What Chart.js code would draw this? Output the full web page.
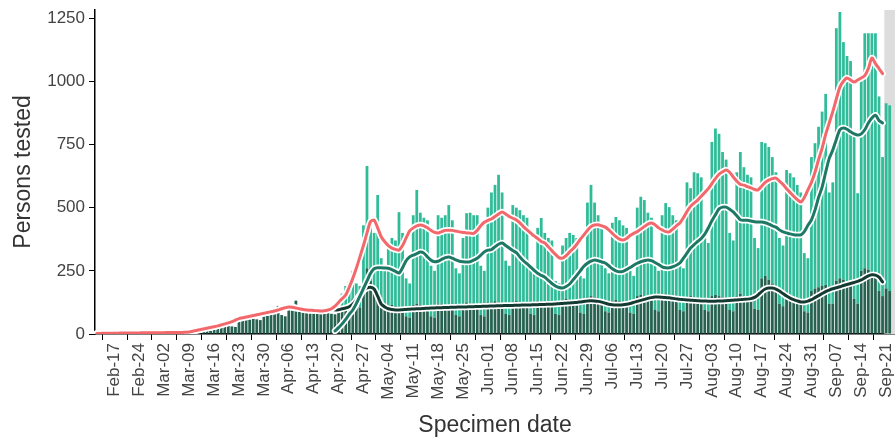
<!DOCTYPE html>
<html>
<head>
<meta charset="utf-8">
<script src="https://cdn.jsdelivr.net/npm/chart.js@4.4.0/dist/chart.umd.min.js"></script>
<style>
html,body{margin:0;padding:0;background:#ffffff;}
#wrap{width:895px;height:440px;}
</style>
</head>
<body>
<div id="wrap"><canvas id="c" width="895" height="440"></canvas></div>
<script>
// ---- categories: one per specimen day, 12 Feb 2020 .. 23 Sep 2020 ----
const firstDay = [2020, 1, 12];
const nDays = 225;
const monthNames = ['Jan','Feb','Mar','Apr','May','Jun','Jul','Aug','Sep','Oct','Nov','Dec'];
const days = [];
for (let i = 0; i < nDays; i++) {
  const dt = new Date(Date.UTC(firstDay[0], firstDay[1], firstDay[2] + i));
  days.push(monthNames[dt.getUTCMonth()] + '-' + String(dt.getUTCDate()).padStart(2, '0'));
}

// ---- tick labels shown on the x axis (Mondays) ----
const tickLabels = ['Feb-17','Feb-24','Mar-02','Mar-09','Mar-16','Mar-23','Mar-30','Apr-06','Apr-13',
  'Apr-20','Apr-27','May-04','May-11','May-18','May-25','Jun-01','Jun-08','Jun-15','Jun-22','Jun-29',
  'Jul-06','Jul-13','Jul-20','Jul-27','Aug-03','Aug-10','Aug-17','Aug-24','Aug-31','Sep-07','Sep-14','Sep-21'];
const yTicks = [0, 250, 500, 750, 1000, 1250];
const provisionalFrom = 'Sep-21';

// ---- daily persons tested: dark (lower) component ----
const darkCounts = [
  3,2,3,2,1,
  4,5,3,4,5,2,2,
  5,6,4,6,5,3,3,
  6,7,6,7,8,4,3,
  9,12,14,18,22,15,12,
  30,34,38,42,45,30,28,
  60,66,72,75,78,58,55,
  85,90,92,95,111,75,70,
  108,112,132,106,98,90,82,
  95,100,98,96,94,80,78,
  95,100,110,120,140,110,105,
  200,260,210,180,160,110,100,
  110,115,110,105,100,70,65,
  115,120,115,110,110,70,65,
  120,120,115,115,110,75,70,
  100,125,120,120,115,75,70,
  125,125,130,125,120,80,75,
  125,130,125,120,120,80,75,
  130,130,125,125,120,80,75,
  135,140,135,130,130,85,80,
  145,150,145,140,135,90,85,
  130,135,130,125,125,85,80,
  150,155,150,150,145,95,90,
  155,160,150,150,145,95,90,
  145,150,145,145,140,95,90,
  150,155,150,145,145,95,90,
  150,160,150,150,145,100,95,
  220,230,215,200,190,120,110,
  150,155,150,140,135,90,85,
  170,180,185,190,195,120,120,
  210,220,215,205,200,140,120,
  250,260,255,245,230,170,150,
  180,170,0
];

// ---- daily persons tested: teal (upper) component ----
const tealCounts = [
  0,0,0,0,0,
  0,0,0,0,0,0,0,
  0,0,0,0,0,0,0,
  0,0,0,0,0,0,0,
  0,0,0,0,0,0,0,
  0,0,0,0,0,0,0,
  0,0,0,0,0,0,0,
  0,0,0,0,0,0,0,
  0,0,0,0,0,0,0,
  0,0,0,0,0,0,0,
  35,60,80,90,110,90,85,
  230,405,240,220,390,190,160,
  250,265,260,377,300,150,135,
  355,450,365,350,340,200,185,
  350,340,355,395,340,185,170,
  280,353,360,350,355,195,180,
  375,435,460,505,440,210,195,
  385,370,365,350,340,180,165,
  290,329,275,255,250,130,125,
  215,240,265,262,250,145,140,
  375,440,375,330,305,170,155,
  310,328,320,305,295,165,150,
  350,388,380,330,315,175,160,
  315,358,352,320,305,185,170,
  455,427,495,491,480,285,270,
  610,658,642,575,545,305,280,
  490,560,510,480,475,280,245,
  540,525,525,500,450,260,240,
  499,481,470,450,425,230,215,
  530,575,635,690,755,440,480,
  1000,1054,940,895,880,650,437,
  750,930,935,945,960,770,550,
  733,735,0
];

// ---- 7-day averages ----
const avgTotal = [
  2,2,3,3,3,
  3,3,4,4,4,4,4,
  4,5,5,5,5,5,5,
  5,6,6,6,6,6,7,
  8,11,14,17,20,23,26,
  29,32,36,40,44,49,55,
  61,64,67,70,73,76,79,
  82,85,88,91,95,100,104,
  107,106,103,100,97,95,94,
  93,92,91,92,95,100,110,
  125,140,154,185,220,260,305,
  350,400,445,451,420,385,365,
  350,340,335,332,350,380,408,
  420,428,431,428,420,410,402,
  400,405,410,411,410,407,404,
  402,400,399,398,410,428,442,
  450,455,465,475,483,475,465,
  458,451,440,425,412,400,388,
  378,366,360,345,330,315,302,
  300,310,325,338,355,375,392,
  410,425,431,432,428,423,412,
  398,385,375,372,378,390,398,
  405,415,425,435,439,432,420,
  412,405,404,415,428,439,460,
  485,505,518,530,545,560,575,
  595,615,632,642,649,640,621,
  605,592,589,583,578,572,570,
  585,600,609,615,617,605,592,
  575,560,545,532,522,540,570,
  600,640,690,735,790,835,880,
  930,977,1000,1013,1005,997,1005,
  1013,1022,1050,1092,1070,1050,1030,
  null,null,null
];

const avgTeal = [
  null,null,null,null,null,
  null,null,null,null,null,null,null,
  null,null,null,null,null,null,null,
  null,null,null,null,null,null,null,
  null,null,null,null,null,null,null,
  null,null,null,null,null,null,null,
  null,null,null,null,null,null,null,
  null,null,null,null,null,null,null,
  null,null,null,null,null,null,null,
  null,null,null,null,null,null,12,
  25,40,58,78,95,120,150,
  180,210,240,258,262,262,261,
  260,255,248,241,262,290,305,
  312,318,324,320,305,292,286,
  288,295,302,305,300,293,288,
  286,285,286,292,300,312,325,
  332,334,345,355,360,350,340,
  330,322,305,290,278,265,252,
  240,232,225,212,200,190,184,
  182,188,198,215,232,250,268,
  280,288,293,290,285,281,270,
  258,250,246,248,255,263,272,
  280,286,290,293,290,283,275,
  266,262,262,266,272,281,300,
  320,340,354,366,378,395,420,
  448,472,495,502,502,494,483,
  468,452,450,450,447,444,443,
  443,440,435,428,423,412,404,
  400,396,393,392,392,405,430,
  452,490,540,581,640,695,728,
  770,808,815,810,800,792,787,
  792,808,835,855,866,845,835,
  null,null,null
];

const avgDark = [
  2,2,3,3,3,
  3,3,4,4,4,4,4,
  4,5,5,5,5,5,5,
  5,6,6,6,6,6,7,
  8,11,14,17,20,23,26,
  29,32,36,40,44,49,55,
  61,64,67,70,73,76,79,
  82,85,88,91,95,100,104,
  107,106,103,100,97,95,94,
  93,92,91,92,95,98,95,
  96,100,103,108,118,135,155,
  172,182,185,178,150,118,107,
  100,97,95,95,96,97,98,
  99,100,100,101,102,103,103,
  104,104,105,105,106,106,107,
  107,107,108,108,109,109,110,
  110,111,111,112,112,113,113,
  113,114,114,115,115,115,116,
  116,117,117,118,118,119,120,
  121,122,123,124,125,127,129,
  131,132,131,129,126,122,118,
  116,115,115,116,118,121,125,
  129,133,137,141,144,146,146,
  145,144,143,141,139,137,136,
  135,134,133,132,131,131,130,
  130,130,131,131,132,133,134,
  135,136,137,138,140,145,155,
  168,178,182,182,178,170,160,
  150,142,136,131,127,127,130,
  136,144,152,160,168,174,179,
  183,187,192,196,200,204,208,
  214,222,230,234,233,225,206,
  null,null,null
];

// ---- styling ----
const FONT = "'Liberation Sans', Arial, Helvetica, sans-serif";
Chart.defaults.font.family = FONT;

const provisionalShade = {
  id: 'provisionalShade',
  beforeDatasetsDraw(chart) {
    const xs = chart.scales.x, a = chart.chartArea, ctx = chart.ctx;
    const i = days.indexOf(provisionalFrom);
    const step = xs.getPixelForValue(1) - xs.getPixelForValue(0);
    const x0 = xs.getPixelForValue(i) - step / 2;
    ctx.save();
    ctx.fillStyle = '#dddddd';
    ctx.fillRect(x0, a.top, a.right - x0, a.bottom - a.top);
    ctx.restore();
  }
};

function lineDs(data, color, width, order) {
  return { type: 'line', data: data, borderColor: color, borderWidth: width, pointRadius: 0,
    pointHoverRadius: 0, tension: 0.25, fill: false, yAxisID: 'y2', order: order,
    borderJoinStyle: 'round', borderCapStyle: 'round', spanGaps: false };
}

new Chart(document.getElementById('c'), {
  data: {
    labels: days,
    datasets: [
      { type: 'bar', data: darkCounts, backgroundColor: '#27614f', stack: 's', yAxisID: 'y', order: 8,
        barPercentage: 0.78, categoryPercentage: 1.0 },
      { type: 'bar', data: tealCounts, backgroundColor: '#30bc98', stack: 's', yAxisID: 'y', order: 9,
        barPercentage: 0.78, categoryPercentage: 1.0 },
      lineDs(avgDark, '#ffffff', 6.5, 7),
      lineDs(avgDark, '#153a31', 3, 6),
      lineDs(avgTeal, '#ffffff', 6.5, 5),
      lineDs(avgTeal, '#1d7866', 3, 4),
      lineDs(avgTotal, '#ffffff', 6.5, 3),
      lineDs(avgTotal, '#f2686b', 3, 2)
    ]
  },
  options: {
    responsive: false,
    maintainAspectRatio: false,
    animation: false,
    devicePixelRatio: 1,
    layout: { padding: { top: 10, right: 0, bottom: 0, left: 0 } },
    plugins: { legend: { display: false }, tooltip: { enabled: false } },
    scales: {
      x: {
        stacked: true,
        offset: true,
        afterFit(s) { s.height = 106; s.paddingRight = 0; s.paddingLeft = 0; },
        grid: { display: true, drawOnChartArea: false, drawTicks: true, tickLength: 6, color: '#000', lineWidth: 1 },
        border: { display: true, color: '#000', width: 1.5 },
        ticks: {
          autoSkip: false, maxRotation: 90, minRotation: 90, padding: 3,
          color: '#444', font: { size: 17, family: FONT },
          callback(v, i) { const l = days[i]; return tickLabels.includes(l) ? l : null; }
        },
        title: { display: true, text: 'Specimen date', color: '#333', font: { size: 23, family: FONT },
          padding: { top: 0, bottom: 1 } }
      },
      y: {
        stacked: true,
        min: 0, max: 1282,
        afterFit(s) { s.width = 95; s.paddingTop = 0; s.paddingBottom = 0; },
        afterBuildTicks(s) { s.ticks = yTicks.map(v => ({ value: v })); },
        grid: { display: true, drawOnChartArea: false, drawTicks: true, tickLength: 6, color: '#000', lineWidth: 1 },
        border: { display: true, color: '#000', width: 1.5 },
        ticks: {
          padding: 4, color: '#444', font: { size: 17, family: FONT },
          callback(v) { return String(v); }
        },
        title: { display: true, text: 'Persons tested', color: '#333', font: { size: 23, family: FONT },
          padding: { top: 10, bottom: 0 } }
      },
      y2: { display: false, min: 0, max: 1282 }
    }
  },
  plugins: [provisionalShade]
});
</script>
</body>
</html>
